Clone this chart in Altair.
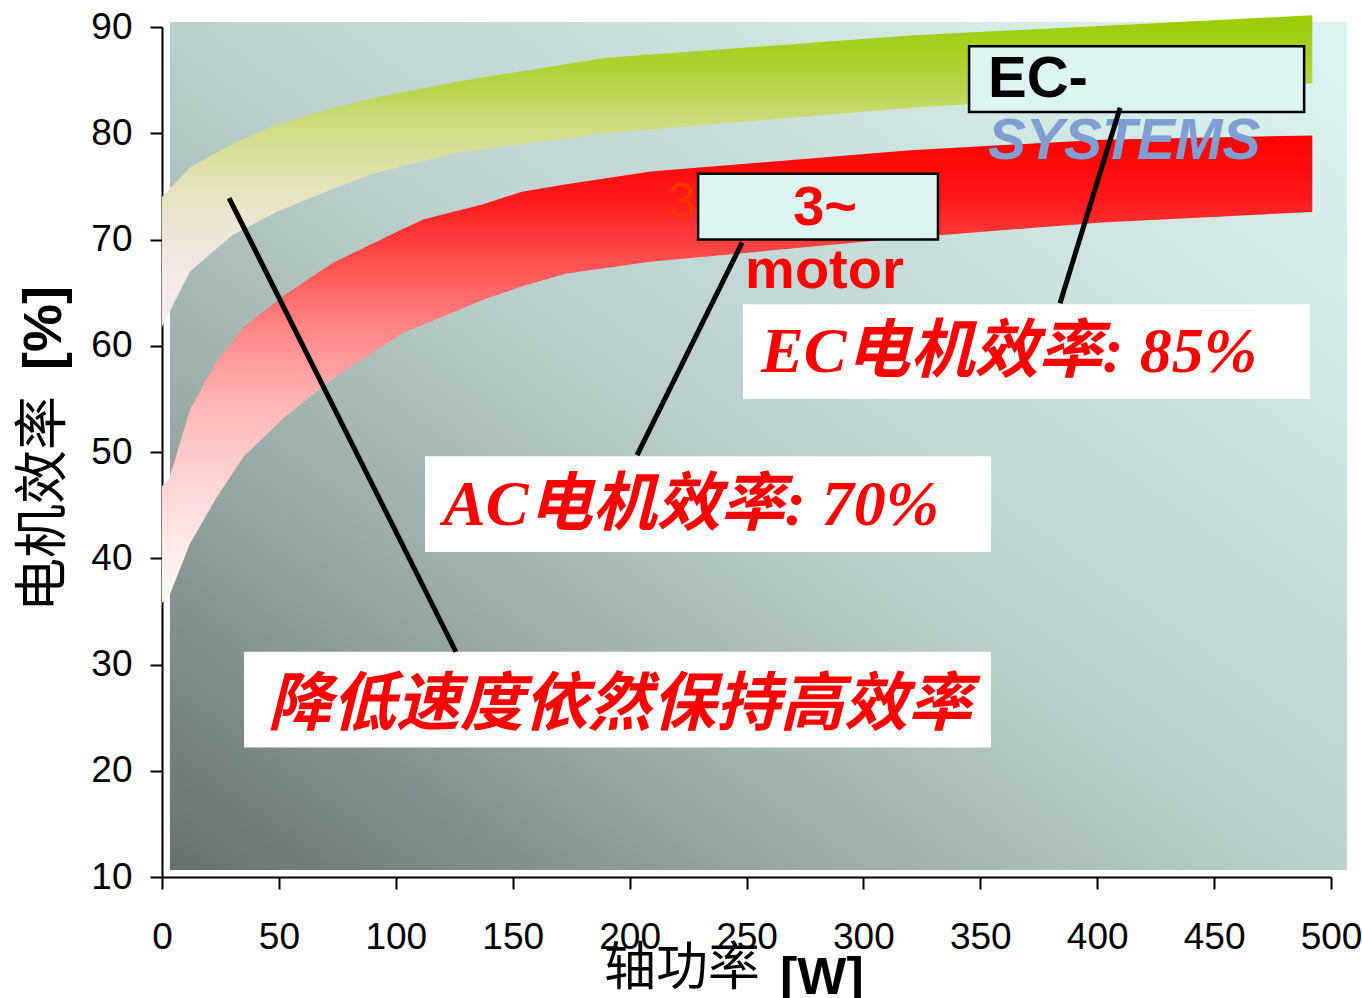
import altair as alt
import pandas as pd

# ---------------- data ----------------
# EC motor efficiency band (green)
ec_w = [0, 12, 30, 49, 70, 90, 127, 190, 320, 492]
ec_upper = [74.0, 76.8, 79.0, 80.8, 82.2, 83.3, 84.9, 87.1, 89.2, 91.1]
ec_lower = [61.8, 67.0, 70.4, 72.6, 74.5, 76.2, 78.2, 80.0, 82.4, 84.7]

# AC (3~) motor efficiency band (red)
ac_w = [0, 3, 12, 23, 35, 52, 73, 103, 112, 137, 154, 173, 209, 320, 402, 492]
ac_upper = [46.8, 47.4, 54.0, 58.4, 61.8, 64.7, 67.8, 71.0, 71.9, 73.3, 74.5, 75.2, 76.4, 78.4, 79.4, 79.8]
ac_lower = [35.8, 36.4, 41.4, 45.6, 49.6, 53.2, 56.9, 61.2, 62.0, 64.3, 65.6, 66.8, 67.9, 70.2, 71.6, 72.6]

x_ticks = [0, 50, 100, 150, 200, 250, 300, 350, 400, 450, 500]
y_ticks = [10, 20, 30, 40, 50, 60, 70, 80, 90]

# annotation boxes (W, %)
white_x1 = [35.1, 112.5, 248.5]
white_x2 = [354.6, 354.6, 491.0]
white_y1 = [31.2, 49.6, 63.9]
white_y2 = [22.2, 40.6, 55.0]

cyan_x1 = [229.3, 345.2]
cyan_x2 = [331.9, 488.5]
cyan_y1 = [76.2, 88.2]
cyan_y2 = [70.0, 82.0]

# callout lines
line_x1 = [28.7, 248.1, 409.8]
line_y1 = [73.9, 69.7, 82.4]
line_x2 = [125.7, 203.2, 384.1]
line_y2 = [31.2, 49.7, 64.0]

# background panel
bg_x1, bg_x2, bg_y1, bg_y2 = 3.4, 506.8, 90.47, 10.66

# ---------------- chart ----------------
xs = alt.Scale(domain=[0, 500], nice=False, zero=False)
ys = alt.Scale(domain=[10, 90], nice=False, zero=False)
x_axis = alt.Axis(values=x_ticks, title="", grid=False, tickSize=12, tickWidth=2, domainWidth=2,
                  domainColor="black", tickColor="black", labelColor="black",
                  labelFont="Liberation Sans", labelFontSize=37, labelPadding=30,
                  labelOverlap=False, labelFlush=False)
y_axis = alt.Axis(values=y_ticks, title="", grid=False, tickSize=12, tickWidth=2, domainWidth=2,
                  domainColor="black", tickColor="black", labelColor="black",
                  labelFont="Liberation Sans", labelFontSize=37, labelPadding=18,
                  labelOverlap=False, labelFlush=False)


def X(f):
    return alt.X(f, type="quantitative", scale=xs, axis=x_axis)


def Y(f):
    return alt.Y(f, type="quantitative", scale=ys, axis=y_axis)


bg_grad = alt.LinearGradient(
    gradient="linear", x1=0, y1=1, x2=1, y2=0,
    stops=[alt.GradientStop(offset=0, color="#65716D"),
           alt.GradientStop(offset=0.3, color="#9FB0AC"),
           alt.GradientStop(offset=0.5, color="#BCD1CD"),
           alt.GradientStop(offset=1, color="#DEF6F2")])

green_grad = alt.LinearGradient(
    gradient="linear", x1=0, y1=0, x2=0, y2=1,
    stops=[alt.GradientStop(offset=0, color="#99CC00"),
           alt.GradientStop(offset=0.22, color="#B5D445"),
           alt.GradientStop(offset=0.35, color="#CFDC80"),
           alt.GradientStop(offset=0.58, color="#E6E3C2"),
           alt.GradientStop(offset=0.78, color="#F2E7E2"),
           alt.GradientStop(offset=1, color="#FBE9F4")])

red_grad = alt.LinearGradient(
    gradient="linear", x1=0, y1=0, x2=0, y2=1,
    stops=[alt.GradientStop(offset=0, color="#FF0000"),
           alt.GradientStop(offset=0.14, color="#FF1A1A"),
           alt.GradientStop(offset=0.27, color="#FF5050"),
           alt.GradientStop(offset=0.42, color="#FF8888"),
           alt.GradientStop(offset=0.57, color="#FFB4B4"),
           alt.GradientStop(offset=0.75, color="#FFD6D6"),
           alt.GradientStop(offset=0.92, color="#FFF0F0"),
           alt.GradientStop(offset=1, color="#FFF8F8")])

bg = alt.Chart(pd.DataFrame({"x1": [bg_x1], "x2": [bg_x2], "y1": [bg_y1], "y2": [bg_y2]})).mark_rect(
    color=bg_grad).encode(x=X("x1"), x2="x2", y=Y("y1"), y2="y2")

ec_band = alt.Chart(pd.DataFrame({"w": ec_w, "lo": ec_lower, "hi": ec_upper})).mark_area(
    color=green_grad).encode(x=X("w"), y=Y("hi"), y2="lo")

ac_band = alt.Chart(pd.DataFrame({"w": ac_w, "lo": ac_lower, "hi": ac_upper})).mark_area(
    color=red_grad).encode(x=X("w"), y=Y("hi"), y2="lo")


def text_layer(txt, xw, yv, size, font, color, weight="bold", style="normal", align="left"):
    df = pd.DataFrame({"x": [xw], "y": [yv], "t": [txt]})
    return alt.Chart(df).mark_text(
        align=align, baseline="alphabetic", font=font, fontSize=size,
        fontWeight=weight, fontStyle=style, color=color
    ).encode(x=X("x"), y=Y("y"), text="t:N")


stray3 = text_layer("3", 216.4, 72.0, 50, "Liberation Sans", "#FF3300", weight="normal")

white_boxes = alt.Chart(pd.DataFrame({"x1": white_x1, "x2": white_x2, "y1": white_y1, "y2": white_y2})).mark_rect(
    color="white").encode(x=X("x1"), x2="x2", y=Y("y1"), y2="y2")

cyan_boxes = alt.Chart(pd.DataFrame({"x1": cyan_x1, "x2": cyan_x2, "y1": cyan_y1, "y2": cyan_y2})).mark_rect(
    fill="#DDF5F1", stroke="black", strokeWidth=2.5).encode(x=X("x1"), x2="x2", y=Y("y1"), y2="y2")

cjk = "Noto Sans CJK SC"
serif_cjk = "Liberation Serif, Noto Sans CJK SC"

t_speed = text_layer("降低速度依然保持高效率", 195.8, 24.3, 64, cjk, "#FF0000", style="italic", align="center")
t_ac = text_layer("AC电机效率: 70%", 120.2, 43.1, 64, serif_cjk, "#FF0000", style="italic")
t_ec = text_layer("EC电机效率: 85%", 256.2, 57.5, 64, serif_cjk, "#FF0000", style="italic")
t_3 = text_layer("3~", 283.6, 71.4, 56, "Liberation Sans", "#FF0000", align="center")
t_motor = text_layer("motor", 249.4, 65.4, 56, "Liberation Sans", "#FF0000")
t_ecdash = text_layer("EC-", 353.3, 83.4, 58, "Liberation Sans", "black")
t_sys = text_layer("SYSTEMS", 353.3, 77.6, 57, "Liberation Sans", "#7F9FD2", style="italic")

lines = alt.Chart(pd.DataFrame({"x1": line_x1, "y1": line_y1, "x2": line_x2, "y2": line_y2})).mark_rule(
    color="black", strokeWidth=5).encode(x=X("x1"), y=Y("y1"), x2="x2", y2="y2")

# axis titles (CJK regular + bold Latin brackets), placed in pixels outside the plot
one = pd.DataFrame({"t": ["a"]})
ytitle_cjk = alt.Chart(one).mark_text(
    text="电机效率", angle=270, align="left", baseline="alphabetic", font=cjk, fontSize=54,
    color="black").encode(x=alt.value(-101), y=alt.value(585))
ytitle_pct = alt.Chart(one).mark_text(
    text="[%]", angle=270, align="left", baseline="alphabetic", font="Liberation Sans", fontSize=54,
    fontWeight="bold", color="black").encode(x=alt.value(-101), y=alt.value(343))
xtitle_cjk = alt.Chart(one).mark_text(
    text="轴功率", align="left", baseline="alphabetic", font=cjk, fontSize=52,
    color="black").encode(x=alt.value(442), y=alt.value(958))
xtitle_w = alt.Chart(one).mark_text(
    text="[W]", align="left", baseline="alphabetic", font="Liberation Sans", fontSize=52,
    fontWeight="bold", color="black").encode(x=alt.value(618), y=alt.value(967))

chart = alt.layer(
    bg, ec_band, ac_band, stray3, white_boxes, cyan_boxes,
    t_speed, t_ac, t_ec, t_3, t_motor, t_ecdash, t_sys, lines,
    ytitle_cjk, ytitle_pct, xtitle_cjk, xtitle_w
).properties(
    width=1169, height=850,
    autosize=alt.AutoSizeParams(type="none"),
    padding={"left": 162, "top": 27, "right": 31, "bottom": 121},
    background="white"
).configure_view(stroke="transparent")

chart.save("out.html", embed_options={"renderer": "svg", "actions": False})
